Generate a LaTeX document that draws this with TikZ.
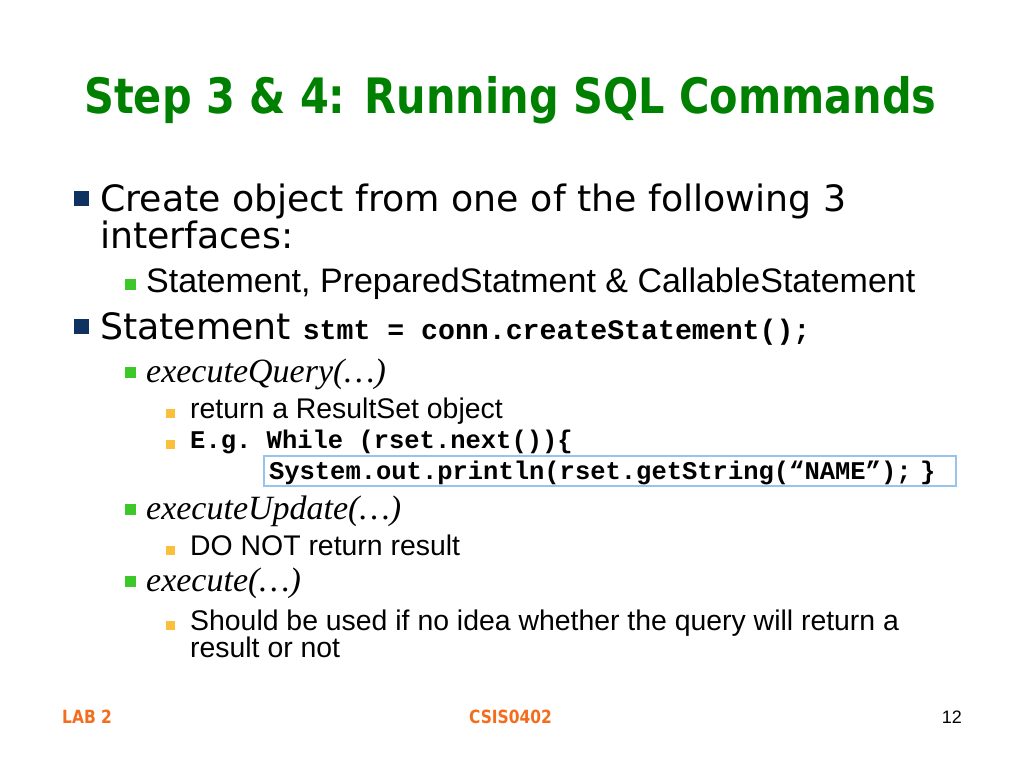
\documentclass[tikz,border=0pt]{standalone}
\usepackage{fontspec}
\setmainfont{Liberation Sans}
\setmonofont{Liberation Mono}
\newfontfamily\slidesans{DejaVu Sans}
\newfontfamily\slidenarrow[FakeStretch=0.85]{DejaVu Sans}
\newfontfamily\slideserif{Liberation Serif}
\definecolor{titlegreen}{RGB}{0,128,0}
\definecolor{navy}{RGB}{16,50,96}
\definecolor{leafgreen}{RGB}{60,200,40}
\definecolor{gold}{RGB}{250,192,60}
\definecolor{boxblue}{RGB}{150,196,236}
\definecolor{footorange}{RGB}{242,110,30}

\begin{document}
\begin{tikzpicture}[x=1pt, y=-1pt,
  title/.style={anchor=base west, inner sep=0, text=titlegreen, font=\slidenarrow\bfseries\fontsize{48.8}{56}\selectfont},
  lone/.style={anchor=base west, inner sep=0, font=\slidesans\fontsize{36.3}{40}\selectfont},
  ltwo/.style={anchor=base west, inner sep=0, font=\fontsize{34}{40}\selectfont},
  lthree/.style={anchor=base west, inner sep=0, font=\fontsize{28.4}{32}\selectfont},
  meth/.style={anchor=base west, inner sep=0, font=\slideserif\itshape\fontsize{34}{40}\selectfont},
  code/.style={anchor=base west, inner sep=0, font=\ttfamily\bfseries\fontsize{25.5}{30}\selectfont},
  codebox/.style={anchor=base west, draw=boxblue, line width=2pt, inner xsep=5pt, inner ysep=3pt,
    text width=682pt, text height=20pt, text depth=4pt, align=left, font=\ttfamily\bfseries\fontsize{25.5}{30}\selectfont},
  bone/.style={rectangle, fill=navy, inner sep=0, minimum size=15pt},
  btwo/.style={rectangle, fill=leafgreen, inner sep=0, minimum size=11pt},
  bthree/.style={rectangle, fill=gold, inner sep=0, minimum size=9pt},
  foot/.style={anchor=base, inner sep=0, text=footorange, font=\slidenarrow\bfseries\fontsize{18.2}{20}\selectfont}]
\useasboundingbox (0,0) rectangle (1024,768);

\path (84, 113) node[title] (title) {Step 3 \& 4: Running SQL Commands};

% first group
\path (81, 198.5) node[bone] (b1) {}
      (100, 211) node[lone] (create) {Create object from one of the following 3}
      (100, 248) node[lone] (iface) {interfaces:}
      (130, 284.5) node[btwo] (b2) {}
      (146, 292) node[ltwo] (kinds) {Statement, PreparedStatment \& CallableStatement};

% second group
\path (81, 326.5) node[bone] (b3) {}
      (100, 339) node[lone] (stmt) {Statement {\ttfamily\bfseries\fontsize{28.2}{30}\selectfont stmt = conn.createStatement();}}
      (130, 372.5) node[btwo] (b4) {}
      (146, 382) node[meth] (query) {executeQuery(…)}
      (170.5, 413.5) node[bthree] (b5) {}
      (190, 418) node[lthree] (rset) {return a ResultSet object}
      (170.5, 444.5) node[bthree] (b6) {}
      (190, 448) node[code] (loop) {E.g. While (rset.next())\{}
      (263, 479) node[codebox] (body) {System.out.println(rset.getString(“NAME”); \}};

\path (130, 509.5) node[btwo] (b7) {}
      (146, 519) node[meth] (update) {executeUpdate(…)}
      (170.5, 550.5) node[bthree] (b8) {}
      (190, 555) node[lthree] (noresult) {DO NOT return result}
      (130, 581.5) node[btwo] (b9) {}
      (146, 591) node[meth] (exec) {execute(…)}
      (170.5, 625.5) node[bthree] (b10) {}
      (190, 630) node[lthree] (should) {Should be used if no idea whether the query will return a}
      (190, 657) node[lthree] (ornot) {result or not};

% footer
\path (62, 723) node[foot, anchor=base west] (lab) {LAB 2}
      (510.5, 723) node[foot] (course) {CSIS0402}
      (962, 723) node[anchor=base east, inner sep=0, font=\fontsize{18}{20}\selectfont] (page) {12};
\end{tikzpicture}
\end{document}
